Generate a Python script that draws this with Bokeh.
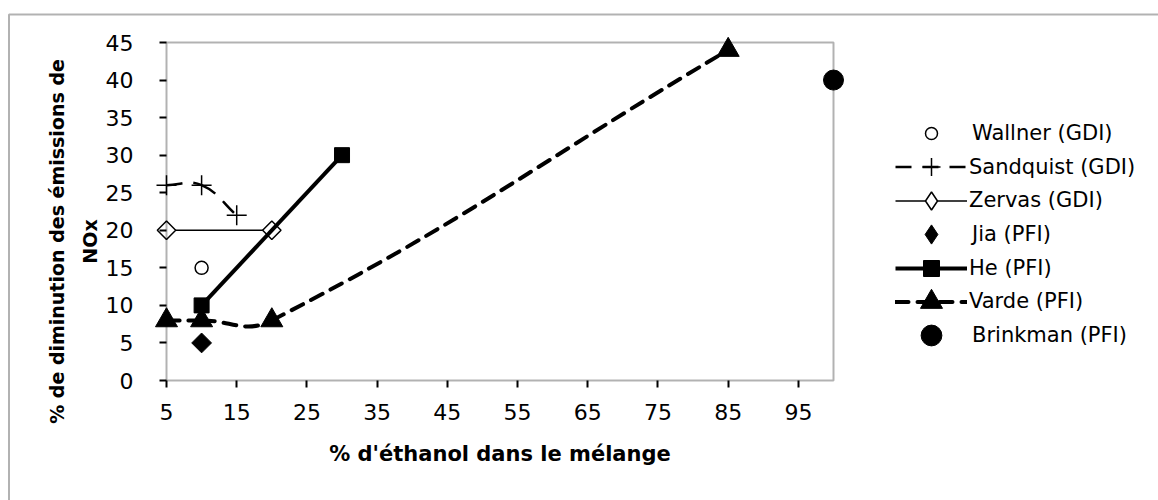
import numpy as np
from bokeh.plotting import figure
from bokeh.models import (Range1d, FixedTicker, Legend, LegendItem, Label,
                          BoxAnnotation)
from bokeh.embed import file_html
from bokeh.resources import INLINE

# ---------------- data ----------------
wallner_x = [10]
wallner_y = [15]
sandquist_x = [5, 10, 15]
sandquist_y = [26, 26, 22]
zervas_x = [5, 20]
zervas_y = [20, 20]
jia_x = [10]
jia_y = [5]
he_x = [10, 30]
he_y = [10, 30]
varde_x = [5, 10, 20, 85]
varde_y = [8, 8, 8, 44]
brinkman_x = [100]
brinkman_y = [40]

x_ticks = [5, 15, 25, 35, 45, 55, 65, 75, 85, 95]
y_ticks = [0, 5, 10, 15, 20, 25, 30, 35, 40, 45]
X_MIN, X_MAX = 5, 100
Y_MIN, Y_MAX = 0, 45

series_labels = ["Wallner (GDI)", "Sandquist (GDI)", "Zervas (GDI)", "Jia (PFI)",
                 "He (PFI)", "Varde (PFI)", "Brinkman (PFI)"]
x_title = "% d'éthanol dans le mélange"
y_title = "% de diminution des émissions de\nNOx"

# ---------------- geometry (image pixels) ----------------
FONT = "DejaVu Sans"
W, H = 1158, 500
PL, PR, PT, PB = 166, 833, 42, 380   # plot-area box
sx = (PR - PL) / (X_MAX - X_MIN)
sy = (PB - PT) / (Y_MAX - Y_MIN)
x_start = X_MIN - PL / sx
x_end = X_MAX + (W - PR) / sx
y_start = Y_MIN - (H - PB) / sy
y_end = Y_MAX + PT / sy

p = figure(width=W, height=H, output_backend="svg", toolbar_location=None,
           x_range=Range1d(x_start, x_end), y_range=Range1d(y_start, y_end),
           min_border=0, min_border_left=0, min_border_right=0,
           min_border_top=0, min_border_bottom=0)
p.background_fill_color = "white"
p.border_fill_color = "white"
p.outline_line_color = None
p.xgrid.visible = False
p.ygrid.visible = False

p.xaxis.fixed_location = Y_MIN
p.yaxis.fixed_location = X_MIN
p.xaxis.ticker = FixedTicker(ticks=x_ticks)
p.yaxis.ticker = FixedTicker(ticks=y_ticks)
for ax in (p.xaxis[0], p.yaxis[0]):
    ax.axis_line_color = None
    ax.major_tick_line_color = "black"
    ax.major_tick_line_width = 2
    ax.major_tick_out = 7
    ax.major_tick_in = 0
    ax.minor_tick_out = 0
    ax.minor_tick_in = 0
    ax.major_label_text_font = FONT
    ax.major_label_text_font_size = "22px"
    ax.major_label_text_color = "black"
p.xaxis.major_label_standoff = 16
p.yaxis.major_label_standoff = 26


# smoothed (Excel-like) curve through the data points, as cubic Bezier segments
def smooth(xs, ys, k=0.42):
    P = np.column_stack([xs, ys]).astype(float)
    n = len(P)
    tan = []
    for i in range(n):
        if i == 0:
            d = P[1] - P[0]
        elif i == n - 1:
            d = P[-1] - P[-2]
        else:
            d = P[i + 1] - P[i - 1]
        tan.append(d / np.hypot(*d))
    out = {key: [] for key in ("x0", "y0", "x1", "y1", "cx0", "cy0", "cx1", "cy1")}
    for i in range(n - 1):
        L = np.hypot(*(P[i + 1] - P[i]))
        c0 = P[i] + tan[i] * k * L
        c1 = P[i + 1] - tan[i + 1] * k * L
        out["x0"].append(P[i][0]); out["y0"].append(P[i][1])
        out["x1"].append(P[i + 1][0]); out["y1"].append(P[i + 1][1])
        out["cx0"].append(c0[0]); out["cy0"].append(c0[1])
        out["cx1"].append(c1[0]); out["cy1"].append(c1[1])
    return out


# Wallner
r_wal = p.scatter(wallner_x, wallner_y, marker="circle", size=13, fill_color="white",
                  line_color="black", line_width=1.5)
# Sandquist
r_san_l = p.bezier(**smooth(sandquist_x, sandquist_y), line_color="black", line_width=2.5,
                   line_dash="16 11")
r_san_m = p.scatter(sandquist_x, sandquist_y, marker="cross", size=20, line_color="black",
                    line_width=1.5)
# Zervas
r_zer_l = p.line(zervas_x, zervas_y, line_color="black", line_width=1.5)
r_zer_m = p.scatter(zervas_x, zervas_y, marker="square", angle=np.pi / 4, size=13,
                    fill_color="white", line_color="black", line_width=1.5)
# Jia
r_jia = p.scatter(jia_x, jia_y, marker="square", angle=np.pi / 4, size=14,
                  fill_color="black", line_color="black")
# He
r_he_l = p.line(he_x, he_y, line_color="black", line_width=4)
r_he_m = p.scatter(he_x, he_y, marker="square", size=15, fill_color="black",
                   line_color="black")
# Varde
r_var_l = p.bezier(**smooth(varde_x, varde_y), line_color="black", line_width=4,
                   line_dash="13 9", line_cap="round")
r_var_m = p.scatter(varde_x, varde_y, marker="triangle", size=22, fill_color="black",
                    line_color="black")
# Brinkman
r_bri = p.scatter(brinkman_x, brinkman_y, marker="circle", size=20, fill_color="black",
                  line_color="black")

# legend-only diamond samples (the legend does not rotate markers); hidden in the plot
k_zer = p.scatter(zervas_x, zervas_y, marker="diamond", fill_color="white",
                  line_color="black", line_width=1.5, visible=False)
k_jia = p.scatter(jia_x, jia_y, marker="diamond", fill_color="black",
                  line_color="black", visible=False)

# plot-area box (the axes' lines) and the chart's outer border
p.add_layout(BoxAnnotation(left=X_MIN, right=X_MAX, bottom=Y_MIN, top=Y_MAX,
                           fill_alpha=0, line_color="black", line_width=2))
p.add_layout(BoxAnnotation(left=x_start + 8.5 / sx, top=y_end - 14.0 / sy,
                           right=x_end + 50, bottom=y_start - 50,
                           fill_alpha=0, line_color="black", line_width=2))

# ---------------- legend (one block per entry so markers keep their size) ----------------
LEG_X = 895
LEG_Y0 = 133
LEG_STEP = 33.67
entries = [
    (series_labels[0], [r_wal], 12, 5),
    (series_labels[1], [r_san_l, r_san_m], 18, 2),
    (series_labels[2], [r_zer_l, k_zer], 18, 2),
    (series_labels[3], [k_jia], 19, 5),
    (series_labels[4], [r_he_l, r_he_m], 16, 2),
    (series_labels[5], [r_var_l, r_var_m], 22, 2),
    (series_labels[6], [r_bri], 21, 5),
]
for i, (lab, rends, msize, stand) in enumerate(entries):
    gh = int(round(msize / 0.4))
    yc = LEG_Y0 + i * LEG_STEP                 # image y of the entry centre
    vy = H - (yc + gh / 2.0)                   # legend bottom above canvas bottom
    lg = Legend(items=[LegendItem(label=lab, renderers=rends)],
                location=(LEG_X, vy), glyph_width=72, glyph_height=gh,
                label_standoff=stand, padding=0, margin=0, spacing=0,
                label_height=10, border_line_color=None, background_fill_alpha=0,
                inactive_fill_alpha=0,
                label_text_font=FONT, label_text_font_size="21px",
                label_text_color="black")
    p.add_layout(lg, "center")

# ---------------- axis titles ----------------
p.add_layout(Label(x=(PL + PR) / 2, y=H - 453, x_units="screen", y_units="screen",
                   text=x_title, text_align="center", text_baseline="alphabetic",
                   text_font=FONT, text_font_style="bold", text_font_size="21px",
                   text_color="black"))
p.add_layout(Label(x=73, y=H - 241, x_units="screen", y_units="screen",
                   text=y_title, angle=np.pi / 2, text_align="center",
                   text_baseline="middle", text_line_height=1.5,
                   text_font=FONT, text_font_style="bold",
                   text_font_size="19px", text_color="black"))

open("out.html", "w").write(file_html(p, INLINE))
